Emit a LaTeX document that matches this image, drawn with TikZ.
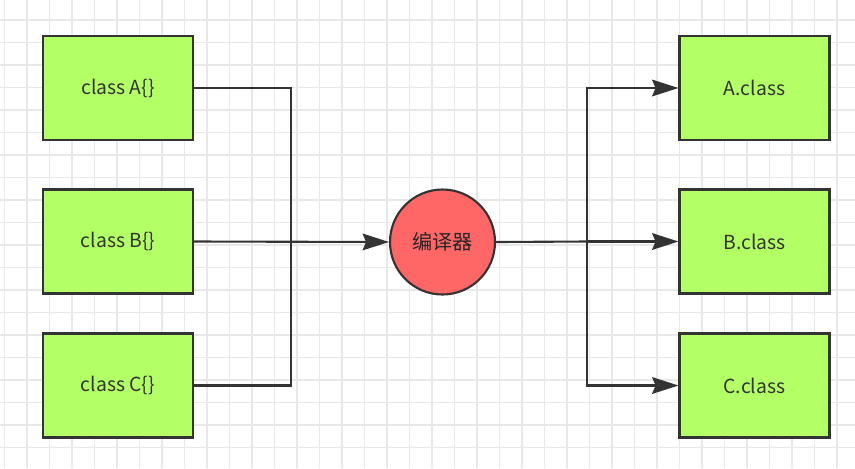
\documentclass[tikz,border=0pt]{standalone}
\usepackage{fontspec}
\setmainfont{Noto Sans CJK SC}
\usepackage{tikz}
\usetikzlibrary{calc,arrows.meta}

\begin{document}
\begin{tikzpicture}[x=0.02cm,y=-0.02cm]
                      \tikzstyle{gridline}=[draw=black!9,line width=0.6pt]
                      \tikzstyle{srcbox}=[rectangle,draw=black!80,line width=1.2pt,fill={rgb,255:red,179;green,255;blue,102},minimum width=150*0.02cm,minimum height=104*0.02cm,inner sep=0pt,text=black!80,font=\fontsize{11}{13}\selectfont]
                      \tikzstyle{compiler}=[circle,draw=black!80,line width=1.2pt,fill={rgb,255:red,255;green,102;blue,102},minimum size=105*0.02cm,inner sep=0pt,text=black!85,font=\fontsize{11.5}{13}\selectfont]
                      \tikzstyle{link}=[draw=black!80,line width=1.2pt]
                      \tikzstyle{tip}=[-{Stealth[length=15pt,width=9.5pt,inset=2pt]}]
                      \useasboundingbox (0,0) rectangle (855,468);
                      \fill[white] (0,0) rectangle (855,468);
                      % grid
                      \foreach \k in {0,...,37} \draw[gridline] ({4.5+22.5*\k},0) -- ({4.5+22.5*\k},468);
                      \foreach \k in {0,...,19} \draw[gridline] (0,{20+22.5*\k}) -- (855,{20+22.5*\k});
                      \node[srcbox] (srcA) at (118,88) {class A\{\}};
                      \node[srcbox] (srcB) at (118,241.5) {class B\{\}};
                      \node[srcbox] (srcC) at (118,385.5) {class C\{\}};
                      \node[compiler] (comp) at (442.5,242) {编译器};
                      \node[srcbox] (outA) at (754.5,88) {A.class};
                      \node[srcbox] (outB) at (754.5,241.5) {B.class};
                      \node[srcbox] (outC) at (754.5,385.5) {C.class};
                      \coordinate (inJ) at (291,241.5);
                      \coordinate (outJ) at (587,241.5);
                      \draw[link] (srcA.east) -| (inJ);
                      \draw[link] (srcC.east) -| (inJ);
                      \draw[link,tip] (srcB.east) -- (comp.west);
                      \draw[link] (comp.east) -- (outJ);
                      \draw[link,tip] (outJ) |- (outA.west);
                      \draw[link,tip] (outJ) -- (outB.west);
                      \draw[link,tip] (outJ) |- (outC.west);
                  \end{tikzpicture}
\end{document}
